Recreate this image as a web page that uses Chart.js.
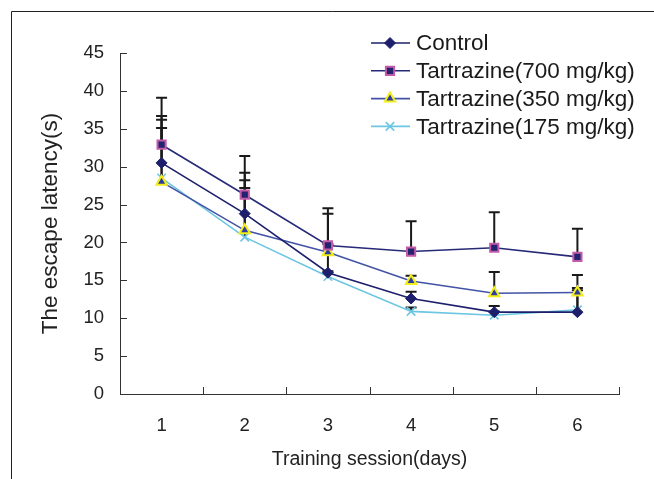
<!DOCTYPE html>
<html>
<head>
<meta charset="utf-8">
<script src="https://cdn.jsdelivr.net/npm/chart.js@4.4.0/dist/chart.umd.min.js"></script>
<style>
html,body{margin:0;padding:0;background:#fff;}
#wrap{width:654px;height:479px;}
</style>
</head>
<body>
<div id="wrap"><canvas id="c" width="654" height="479"></canvas></div>
<script>
const days = ['1', '2', '3', '4', '5', '6'];
const names = ['Control', 'Tartrazine(700 mg/kg)', 'Tartrazine(350 mg/kg)', 'Tartrazine(175 mg/kg)'];
const control = [30.5, 23.8, 16.0, 12.6, 10.8, 10.8];
const t700 = [32.9, 26.3, 19.6, 18.8, 19.3, 18.1];
const t350 = [28.0, 21.6, 18.7, 14.9, 13.3, 13.4];
const t175 = [28.5, 20.7, 15.5, 10.9, 10.4, 11.1];
// upper end of the error bars (mean + SD)
const controlTop = [36.7, 29.2, 19.8, 13.5, 11.6, 14.0];
const t700Top = [39.1, 31.4, 24.5, 22.8, 24.0, 21.8];
const t350Top = [35.1, 28.2, 23.8, 15.6, 16.1, 15.7];
const t175Top = [36.2, 27.2, 16.2, 11.4, 10.9, 13.7];
const tops = [controlTop, t700Top, t350Top, t175Top];

const FONT = "'Liberation Sans', Arial, sans-serif";

// outer frame of the figure
const framePlugin = {
  id: 'frame',
  beforeDraw(chart) {
    const ctx = chart.ctx;
    ctx.save();
    ctx.strokeStyle = '#222';
    ctx.lineWidth = 1;
    ctx.beginPath();
    ctx.moveTo(11.5, chart.height);
    ctx.lineTo(11.5, 11.5);
    ctx.lineTo(chart.width, 11.5);
    ctx.stroke();
    ctx.restore();
  }
};

const errorBars = {
  id: 'errorBars',
  beforeDatasetsDraw(chart) {
    const ctx = chart.ctx;
    const ys = chart.scales.y;
    ctx.save();
    ctx.strokeStyle = '#1a1a1a';
    ctx.lineWidth = 2;
    tops.forEach((arr, d) => {
      const meta = chart.getDatasetMeta(d);
      arr.forEach((v, i) => {
        const pt = meta.data[i];
        const y1 = ys.getPixelForValue(v);
        ctx.beginPath();
        ctx.moveTo(pt.x, pt.y);
        ctx.lineTo(pt.x, y1);
        ctx.moveTo(pt.x - 5.5, y1);
        ctx.lineTo(pt.x + 5.5, y1);
        ctx.stroke();
      });
    });
    ctx.restore();
  }
};

// ticks pointing into the plot
const innerTicks = {
  id: 'innerTicks',
  afterDraw(chart) {
    const ctx = chart.ctx;
    const xs = chart.scales.x, ys = chart.scales.y;
    const a = chart.chartArea;
    ctx.save();
    ctx.strokeStyle = '#333';
    ctx.lineWidth = 1;
    ctx.beginPath();
    ys.ticks.forEach(t => {
      const y = Math.round(ys.getPixelForValue(t.value)) + 0.5;
      ctx.moveTo(a.left, y);
      ctx.lineTo(a.left + 7, y);
    });
    for (let i = 0; i <= days.length; i++) {
      const x = Math.round(xs.getPixelForValue(i - 0.5)) + 0.5;
      ctx.moveTo(x, a.bottom);
      ctx.lineTo(x, a.bottom - 7);
    }
    ctx.stroke();
    ctx.restore();
  }
};

function marker(ctx, ds, x, y) {
  ctx.fillStyle = ds.pointBackgroundColor;
  ctx.strokeStyle = ds.pointBorderColor;
  ctx.lineWidth = ds.pointBorderWidth;
  Chart.helpers.drawPoint(ctx, {
    pointStyle: ds.pointStyle,
    radius: ds.pointRadius,
    rotation: 0,
    borderWidth: ds.pointBorderWidth
  }, x, y);
}

const legendBox = {
  id: 'legendBox',
  afterDraw(chart) {
    const ctx = chart.ctx;
    ctx.save();
    ctx.font = '22.5px ' + FONT;
    ctx.textBaseline = 'middle';
    ctx.textAlign = 'left';
    chart.data.datasets.forEach((ds, i) => {
      const y = 43 + i * 27.8;
      ctx.strokeStyle = ds.borderColor;
      ctx.lineWidth = ds.borderWidth;
      ctx.beginPath();
      ctx.moveTo(371, y);
      ctx.lineTo(410, y);
      ctx.stroke();
      marker(ctx, ds, 390, y);
      ctx.fillStyle = '#1a1a1a';
      ctx.fillText(ds.label, 416, y + 1);
    });
    ctx.restore();
  }
};

new Chart(document.getElementById('c'), {
  type: 'line',
  data: {
    labels: days,
    datasets: [
      {
        label: names[0], data: control,
        borderColor: '#1d1f6c', borderWidth: 1.6,
        pointStyle: 'rectRot', pointRadius: 5.5,
        pointBackgroundColor: '#1d1f6c', pointBorderColor: '#1d1f6c', pointBorderWidth: 1
      },
      {
        label: names[1], data: t700,
        borderColor: '#272a78', borderWidth: 1.6,
        pointStyle: 'rect', pointRadius: 5.8,
        pointBackgroundColor: '#222470', pointBorderColor: '#c45aa8', pointBorderWidth: 2
      },
      {
        label: names[2], data: t350,
        borderColor: '#4253a6', borderWidth: 1.6,
        pointStyle: 'triangle', pointRadius: 6,
        pointBackgroundColor: '#2f3d9c', pointBorderColor: '#f2ee1c', pointBorderWidth: 2
      },
      {
        label: names[3], data: t175,
        borderColor: '#6cc6e2', borderWidth: 1.6,
        pointStyle: 'crossRot', pointRadius: 6,
        pointBackgroundColor: '#6cc6e2', pointBorderColor: '#6cc6e2', pointBorderWidth: 1.6
      }
    ]
  },
  options: {
    responsive: false,
    animation: false,
    devicePixelRatio: 1,
    layout: { padding: { left: 0, right: 35, top: 53, bottom: 0 } },
    elements: { line: { tension: 0 } },
    plugins: {
      legend: { display: false },
      tooltip: { enabled: false }
    },
    scales: {
      x: {
        offset: true,
        grid: { display: false, drawTicks: false },
        border: { display: true, color: '#333', width: 1 },
        ticks: { color: '#222', font: { family: FONT, size: 18.5 }, padding: 21, maxRotation: 0 },
        title: { display: true, text: 'Training session(days)', color: '#222',
          font: { family: FONT, size: 19.5 }, padding: { top: 0, bottom: 8 } },
        afterFit(s) { s.height = 85; }
      },
      y: {
        min: 0, max: 45,
        grid: { display: false, drawTicks: false },
        border: { display: true, color: '#333', width: 1 },
        ticks: { stepSize: 5, color: '#222', font: { family: FONT, size: 18.5 }, padding: 16 },
        title: { display: true, text: 'The escape latency(s)', color: '#222',
          font: { family: FONT, size: 22.5 }, padding: { top: 37, bottom: 0 } },
        afterFit(s) { s.width = 120; }
      }
    }
  },
  plugins: [framePlugin, errorBars, innerTicks, legendBox]
});
</script>
</body>
</html>
